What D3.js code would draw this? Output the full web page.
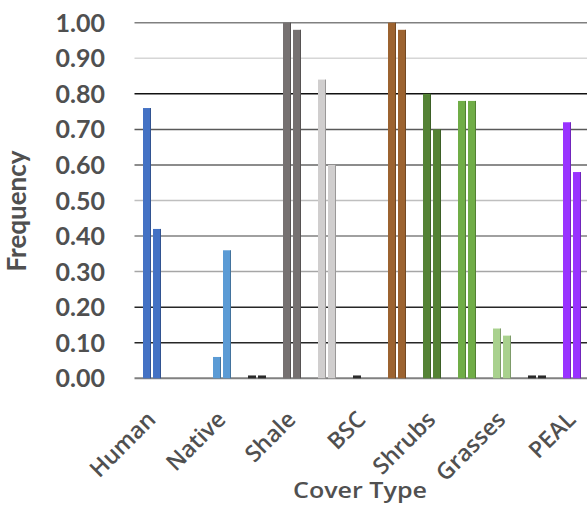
<!DOCTYPE html>
<html>
<head>
<meta charset="utf-8">
<script src="https://cdn.jsdelivr.net/npm/d3@7/dist/d3.min.js"></script>
<style>
  html, body { margin: 0; padding: 0; background: #fff; }
  svg { display: block; }
  text { font-family: Lato, "Open Sans", sans-serif; fill: #505050; }
  .cat, .xtitle { font-family: "Open Sans", Lato, sans-serif; }
</style>
</head>
<body>
<svg id="chart" width="587" height="510"></svg>
<script>
// Frequency of each cover type, two bars per group
const groups = ["Human", "Human2", "Native", "Native2", "Shale", "Shale2", "BSC",
                "BSC2", "Shrubs", "Shrubs2", "Grasses", "Grasses2", "PEAL"];
const seriesA = [0.76, 0.00, 0.06, 0.008, 1.00, 0.84, 0.008, 1.00, 0.80, 0.78, 0.14, 0.008, 0.72];
const seriesB = [0.42, 0.00, 0.36, 0.008, 0.98, 0.60, 0.00, 0.98, 0.70, 0.78, 0.12, 0.008, 0.58];
const coverTypes = ["Human", "Native", "Shale", "BSC", "Shrubs", "Grasses", "PEAL"];
const yTicks = [0, 0.1, 0.2, 0.3, 0.4, 0.5, 0.6, 0.7, 0.8, 0.9, 1.0];

// fill colour of each group
const groupColors = ["#4472C4", "#4472C4", "#5B9BD5", "#2b2b2b", "#767171", "#D0CECE", "#2b2b2b",
                     "#9C6330", "#548235", "#70AD47", "#A9D18E", "#2b2b2b", "#9933FF"];
// stroke colour of each horizontal gridline (0.00 .. 1.00)
const gridColors = ["#808080", "#262626", "#262626", "#a6a6a6", "#808080", "#bfbfbf",
                    "#666666", "#595959", "#111111", "#d6d6d6", "#808080"];

const svg = d3.select("#chart");
const plotLeft = 134.5, plotRight = 589.5, plotTop = 22.7, plotBottom = 378.3;

const x0 = d3.scaleBand().domain(groups).range([plotLeft, plotRight]).paddingInner(0).paddingOuter(0);
const x1 = d3.scaleBand().domain(["a", "b"]).range([7.5, 27.5]).paddingInner(0.2).paddingOuter(0.1);
const y = d3.scaleLinear().domain([0, 1]).range([plotBottom, plotTop]);

// gridlines
svg.append("g").selectAll("line")
  .data(yTicks)
  .join("line")
  .attr("x1", plotLeft).attr("x2", 587)
  .attr("y1", d => y(d)).attr("y2", d => y(d))
  .attr("stroke", (d, i) => gridColors[i])
  .attr("stroke-width", (d, i) => i === 0 ? 2 : 1.5);

// y tick labels
svg.append("g").selectAll("text")
  .data(yTicks)
  .join("text")
  .attr("x", 105)
  .attr("y", d => y(d))
  .attr("dy", "0.36em")
  .attr("text-anchor", "end")
  .attr("font-size", 25)
  .attr("font-weight", 700)
  .text(d => d3.format(".2f")(d));

// bars
const rows = groups.map((g, i) => ({ g, i, vals: [{ k: "a", v: seriesA[i] }, { k: "b", v: seriesB[i] }] }));
const gBars = svg.append("g").selectAll("g")
  .data(rows)
  .join("g")
  .attr("transform", d => `translate(${x0(d.g)},0)`);

gBars.selectAll("rect")
  .data(d => d.vals.filter(v => v.v > 0).map(v => ({ ...v, i: d.i })))
  .join("rect")
  .attr("x", d => x1(d.k))
  .attr("width", x1.bandwidth())
  .attr("y", d => y(d.v))
  .attr("height", d => y(0) - y(d.v))
  .attr("fill", d => groupColors[d.i]);

// darker right edge of each bar
gBars.selectAll("line.edge")
  .data(d => d.vals.filter(v => v.v > 0.05).map(v => ({ ...v, i: d.i })))
  .join("line")
  .attr("class", "edge")
  .attr("x1", d => x1(d.k) + x1.bandwidth() - 0.5)
  .attr("x2", d => x1(d.k) + x1.bandwidth() - 0.5)
  .attr("y1", d => y(d.v))
  .attr("y2", y(0))
  .attr("stroke", d => d3.color(groupColors[d.i]).darker(1.6))
  .attr("stroke-opacity", 0.6)
  .attr("stroke-width", 1);

// category labels, rotated
svg.append("g").selectAll("text")
  .data(coverTypes)
  .join("text")
  .attr("class", "cat")
  .attr("transform", d => `translate(${x0(d) + x0.bandwidth() / 2 + 5},421) rotate(-45)`)
  .attr("text-anchor", "end")
  .attr("font-size", 23)
  .attr("font-weight", 600)
  .text(d => d);

// axis titles
svg.append("text")
  .attr("class", "xtitle")
  .attr("x", 360).attr("y", 498)
  .attr("text-anchor", "middle")
  .attr("font-size", 22)
  .attr("font-weight", 600)
  .attr("textLength", 134)
  .attr("lengthAdjust", "spacingAndGlyphs")
  .text("Cover Type");

svg.append("text")
  .attr("transform", "translate(26,211) rotate(-90)")
  .attr("text-anchor", "middle")
  .attr("font-size", 26)
  .attr("font-weight", 700)
  .text("Frequency");
</script>
</body>
</html>
